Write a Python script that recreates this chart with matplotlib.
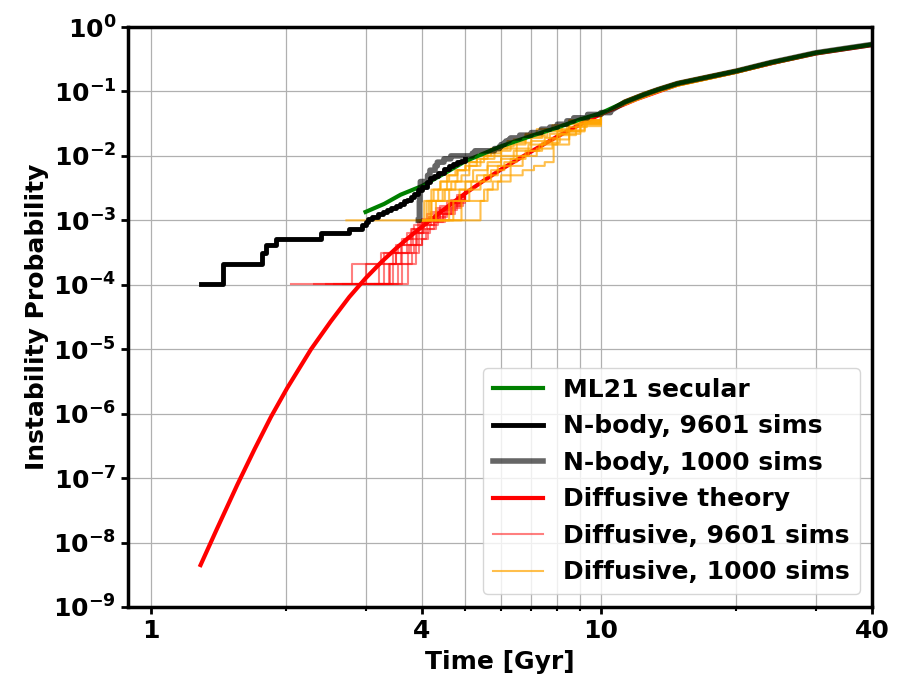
import numpy as np
import matplotlib
matplotlib.use("Agg")
import matplotlib.pyplot as plt
from matplotlib.ticker import FixedLocator, NullLocator, NullFormatter

plt.rcParams['font.family'] = ['DejaVu Sans']
plt.rcParams['font.weight'] = 'bold'
plt.rcParams['axes.labelweight'] = 'bold'

# ---- data ----
# diffusive theory (smooth curve)
t_theory = [1.29, 1.40, 1.557, 1.70, 1.849, 2.01, 2.27, 2.51, 2.76, 3.0, 3.25, 3.5, 3.78,
            4.0, 4.5, 5.0, 5.5, 6.0, 7.0, 8.0, 9.0, 10.0, 12.0, 15.0, 20.0, 25.0, 30.0, 35.0, 40.0]
p_theory = [4.47e-9, 1.58e-8, 7.9e-8, 2.8e-7, 8.9e-7, 2.51e-6, 1.0e-5, 2.69e-5, 6.46e-5,
            1.26e-4, 2.24e-4, 3.63e-4, 5.75e-4, 7.9e-4, 1.51e-3, 2.63e-3, 4.17e-3, 6.17e-3,
            1.17e-2, 2.0e-2, 3.09e-2, 4.47e-2, 7.6e-2, 0.132, 0.204, 0.295, 0.389, 0.457, 0.525]

# ML21 secular
t_ml21 = [3.0, 3.3, 3.59, 4.0, 4.5, 5.0, 6.0, 7.0, 8.0, 9.0, 10.0,
          11.3, 12.5, 13.4, 14.8, 17.3, 20.0, 23.8, 27.0, 30.0, 35.0, 40.0]
p_ml21 = [1.35e-3, 1.8e-3, 2.5e-3, 3.4e-3, 5.4e-3, 8.3e-3, 1.41e-2, 2.04e-2, 2.75e-2,
          3.7e-2, 4.6e-2, 0.0684, 0.0902, 0.107, 0.133, 0.1675, 0.2075, 0.2805, 0.339,
          0.398, 0.468, 0.537]

# N-body, 9601 sims: event times and cumulative counts
t_nb9601 = [1.29, 1.45, 1.77, 1.80, 1.90, 2.39, 2.76, 2.95, 3.0, 3.04, 3.1, 3.2, 3.28, 3.35,
            3.42, 3.5, 3.58, 3.65, 3.71, 3.78, 3.85, 3.92, 4.0, 4.1, 4.17, 4.25, 4.35, 4.48,
            4.6, 4.7, 4.8, 4.9, 5.0]
n_nb9601 = [1, 2, 3, 4, 5, 6, 7, 8, 9, 10, 11, 12, 13, 14, 15, 16, 17, 19, 20, 22, 25, 28,
            32, 38, 43, 47, 52, 60, 66, 71, 76, 81, 86]

# N-body, 1000 sims
t_nb1000 = [3.93, 3.95, 3.96, 3.97, 4.12, 4.17, 4.28, 4.33, 4.48, 4.64, 5.18, 5.25, 5.8, 5.95,
            6.0, 6.1, 6.15, 6.25, 6.3, 6.6, 7.0, 7.37, 7.7, 8.0, 8.4, 8.7, 9.34, 10.0, 10.5]
n_nb1000 = [1, 2, 3, 4, 5, 6, 7, 8, 9, 10, 11, 12, 13, 14, 15, 16, 17, 18, 19, 21, 23, 26,
            28, 31, 35, 39, 44, 47, 50]
t_late = [11.3, 12.5, 13.4, 14.8, 17.3, 20.0, 23.8, 27.0, 30.0, 35.0, 40.0]
p_late = [0.0684, 0.0902, 0.107, 0.133, 0.1675, 0.2075, 0.2805, 0.339, 0.398, 0.468, 0.537]

# Diffusive, 9601 sims (each: event times, counts)
diff9601 = [
    ([2.05, 3.45, 3.62, 3.78, 3.95, 4.1, 4.3, 4.5, 4.7, 4.9, 5.0], [1, 2, 3, 5, 7, 9, 12, 15, 18, 22, 24]),
    ([2.67, 2.80, 3.30, 3.55, 3.70, 3.85, 4.0, 4.2, 4.4, 4.65, 4.85, 5.0], [1, 2, 3, 4, 6, 8, 10, 13, 16, 20, 24, 27]),
    ([2.30, 3.21, 3.50, 3.70, 3.90, 4.05, 4.25, 4.45, 4.7, 4.9, 5.0], [1, 2, 3, 4, 6, 8, 10, 13, 17, 20, 22]),
    ([2.90, 3.39, 3.59, 3.75, 3.88, 4.0, 4.15, 4.35, 4.6, 4.8, 5.0], [1, 2, 3, 4, 6, 9, 11, 14, 18, 22, 26]),
    ([3.05, 3.30, 3.45, 3.62, 3.80, 3.97, 4.15, 4.4, 4.6, 4.85, 5.0], [1, 2, 3, 5, 7, 9, 11, 14, 17, 21, 24]),
    ([2.55, 3.54, 3.72, 3.84, 4.0, 4.12, 4.3, 4.5, 4.75, 4.95, 5.0], [1, 2, 3, 4, 5, 7, 9, 12, 16, 20, 21]),
    ([3.15, 3.40, 3.50, 3.66, 3.78, 3.92, 4.1, 4.3, 4.55, 4.8, 5.0], [1, 2, 4, 5, 7, 9, 12, 15, 19, 24, 28]),
    ([2.45, 3.00, 3.25, 3.59, 3.82, 4.02, 4.2, 4.4, 4.65, 4.9, 5.0], [1, 2, 3, 4, 6, 8, 10, 12, 15, 19, 20]),
    ([3.25, 3.62, 3.80, 3.95, 4.08, 4.25, 4.45, 4.7, 4.9, 5.0], [1, 2, 3, 5, 7, 9, 12, 16, 20, 23]),
    ([2.85, 3.72, 3.88, 4.0, 4.18, 4.35, 4.55, 4.8, 5.0], [1, 2, 4, 6, 8, 11, 14, 18, 22]),
]

# Diffusive, 1000 sims
diff1000 = [
    ([2.72, 4.05, 4.6, 5.0, 5.3, 5.6, 6.0, 6.4, 6.9, 7.5, 8.0, 9.0, 10.0], [1, 2, 3, 4, 5, 7, 9, 12, 15, 19, 24, 33, 45]),
    ([3.90, 4.2, 4.35, 4.55, 4.8, 5.1, 5.5, 6.0, 6.5, 7.0, 7.6, 8.5, 10.0], [1, 2, 3, 4, 6, 8, 10, 13, 16, 20, 25, 32, 46]),
    ([4.0, 4.9, 5.5, 5.9, 6.3, 6.7, 7.1, 7.5, 7.85, 8.5, 9.2, 10.0], [1, 2, 3, 4, 5, 6, 7, 8, 15, 24, 33, 44]),
    ([4.1, 4.3, 4.5, 4.65, 4.9, 5.1, 5.4, 5.8, 6.3, 6.8, 7.4, 8.2, 10.0], [1, 2, 3, 4, 5, 7, 9, 12, 15, 19, 24, 31, 46]),
    ([4.2, 5.4, 5.6, 5.75, 6.0, 6.3, 6.7, 7.2, 7.8, 8.5, 9.2, 10.0], [1, 2, 3, 4, 5, 7, 10, 13, 18, 25, 34, 43]),
    ([3.95, 4.1, 4.25, 4.4, 4.55, 4.75, 5.0, 5.3, 5.7, 6.2, 6.8, 7.5, 8.5, 10.0], [1, 2, 3, 4, 5, 6, 8, 10, 13, 17, 21, 26, 35, 47]),
    ([4.4, 4.7, 5.1, 5.4, 5.7, 6.1, 6.5, 6.9, 7.3, 8.0, 8.8, 10.0], [1, 2, 3, 4, 6, 8, 10, 12, 15, 21, 29, 42]),
    ([3.98, 4.15, 4.45, 4.75, 5.2, 5.6, 6.0, 6.5, 7.0, 7.7, 8.4, 9.3, 10.0], [1, 2, 3, 4, 6, 8, 10, 13, 17, 22, 28, 36, 44]),
    ([4.3, 4.6, 4.85, 5.15, 5.5, 5.9, 6.3, 6.8, 7.4, 8.1, 9.0, 10.0], [1, 2, 3, 4, 5, 7, 9, 12, 16, 22, 31, 45]),
    ([4.0, 4.2, 4.4, 4.6, 4.8, 5.0, 5.3, 5.6, 6.0, 6.4, 6.8, 7.2, 7.8, 8.5, 10.0], [1, 3, 4, 5, 6, 7, 9, 11, 14, 18, 22, 26, 30, 36, 48]),
]
p_late_lo = [0.063, 0.083, 0.099, 0.123, 0.156, 0.195, 0.265, 0.322, 0.38, 0.45, 0.52]
p_late_hi = [0.072, 0.095, 0.112, 0.139, 0.175, 0.216, 0.29, 0.35, 0.41, 0.48, 0.55]

x_ticks = [1, 4, 10, 40]
x_minor = [2, 3, 5, 6, 7, 8, 9, 20, 30]
y_ticks = [1e-9, 1e-8, 1e-7, 1e-6, 1e-5, 1e-4, 1e-3, 1e-2, 1e-1, 1e0]
y_labels = [r'$\mathbf{10^{-9}}$', r'$\mathbf{10^{-8}}$', r'$\mathbf{10^{-7}}$', r'$\mathbf{10^{-6}}$',
            r'$\mathbf{10^{-5}}$', r'$\mathbf{10^{-4}}$', r'$\mathbf{10^{-3}}$', r'$\mathbf{10^{-2}}$',
            r'$\mathbf{10^{-1}}$', r'$\mathbf{10^{0}}$']


def steps(t, n, unit):
    t = np.asarray(t, dtype=float)
    p = np.asarray(n, dtype=float) * unit
    return np.repeat(t, 2)[1:], np.repeat(p, 2)[:-1]


fig = plt.figure(figsize=(9, 7), dpi=100)
ax = fig.add_axes([0.1422, 0.1329, 0.8267, 0.8285])

h_theory, = ax.plot(t_theory, p_theory, color='red', lw=3, zorder=2, label='Diffusive theory')

h_d9601 = None
for t, n in diff9601:
    x, y = steps(t, n, 1 / 9601)
    h, = ax.plot(x, y, color='red', alpha=0.5, lw=1.5, zorder=2.1)
    h_d9601 = h_d9601 or h
h_d9601.set_label('Diffusive, 9601 sims')

h_d1000 = None
for i, (t, n) in enumerate(diff1000):
    x, y = steps(t, n, 1 / 1000)
    late = p_late_lo if i % 2 else p_late_hi
    x = np.concatenate([x, t_late])
    y = np.concatenate([y, late])
    h, = ax.plot(x, y, color='orange', alpha=0.7, lw=1.5, zorder=2.2)
    h_d1000 = h_d1000 or h
h_d1000.set_label('Diffusive, 1000 sims')

h_ml, = ax.plot(t_ml21, p_ml21, color='green', lw=3, zorder=2.3, label='ML21 secular')

x, y = steps(t_nb9601, n_nb9601, 1 / 9601)
h_nb1, = ax.plot(x, y, color='black', lw=3.5, zorder=2.4, label='N-body, 9601 sims')

x, y = steps(t_nb1000, n_nb1000, 1 / 1000)
x = np.concatenate([x, t_late])
y = np.concatenate([y, p_late])
h_nb2, = ax.plot(x, y, color='black', alpha=0.6, lw=4, zorder=2.5, label='N-body, 1000 sims')

ax.set_xscale('log')
ax.set_yscale('log')
ax.set_xlim(0.89, 40)
ax.set_ylim(1e-9, 1)

ax.xaxis.set_major_locator(FixedLocator(x_ticks))
ax.set_xticklabels([str(v) for v in x_ticks])
ax.xaxis.set_minor_locator(FixedLocator(x_minor))
ax.xaxis.set_minor_formatter(NullFormatter())
ax.yaxis.set_major_locator(FixedLocator(y_ticks))
ax.set_yticklabels(y_labels)
ax.yaxis.set_minor_locator(NullLocator())

ax.grid(True, which='both', color='#b0b0b0', lw=0.9)
ax.set_axisbelow(True)
ax.tick_params(axis='both', which='major', labelsize=18, width=2, length=5)
ax.tick_params(axis='both', which='minor', width=1.5, length=3)
for s in ax.spines.values():
    s.set_linewidth(2.5)

ax.set_xlabel('Time [Gyr]', fontsize=18, fontweight='bold', labelpad=5)
ax.set_ylabel('Instability Probability', fontsize=18, fontweight='bold', labelpad=3)

ax.legend(handles=[h_ml, h_nb1, h_nb2, h_theory, h_d9601, h_d1000],
          loc='lower right', prop={'weight': 'bold', 'size': 18})

fig.savefig('out.png', dpi=100)
